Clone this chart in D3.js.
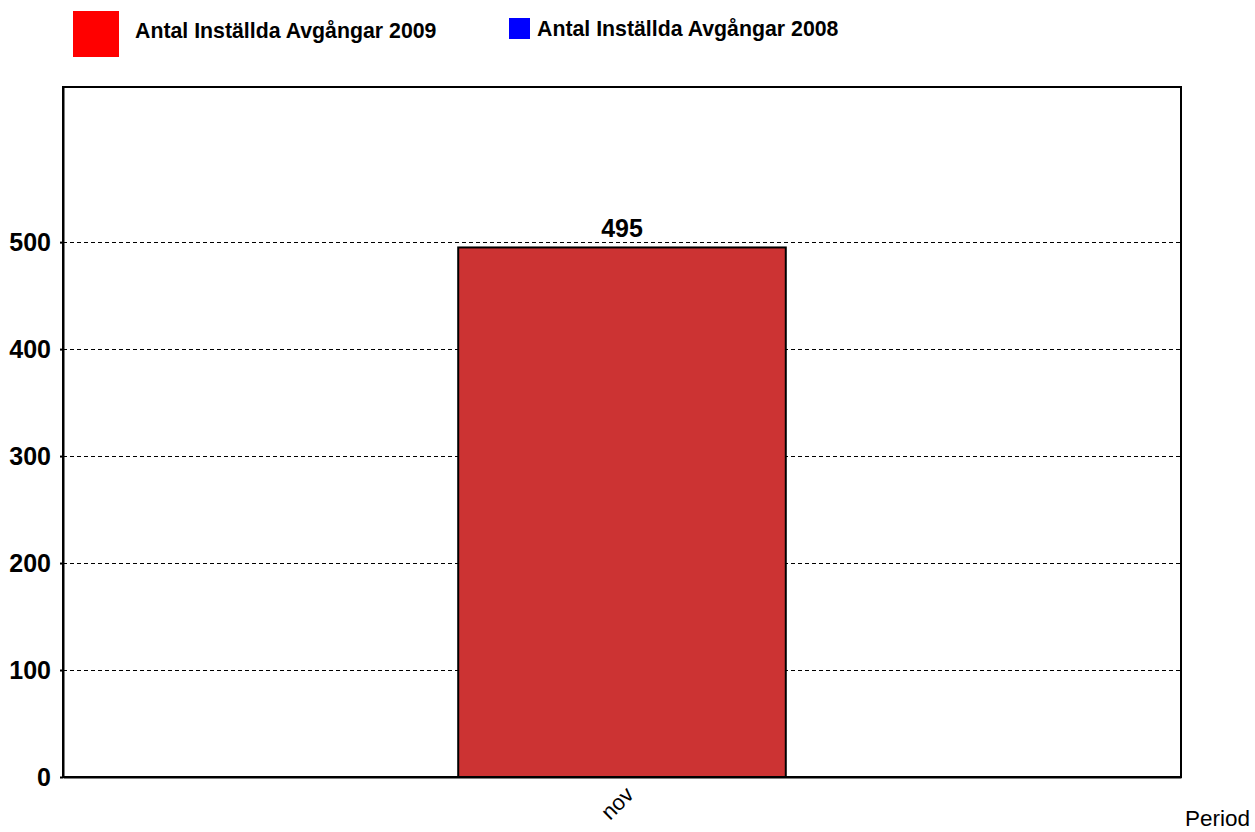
<!DOCTYPE html>
<html>
<head>
<meta charset="utf-8">
<script src="https://cdn.jsdelivr.net/npm/d3@7"></script>
<style>
  body { margin: 0; background: #fff; }
  svg { display: block; font-family: "Liberation Sans", Arial, sans-serif; }
</style>
</head>
<body>
<svg id="chart"></svg>
<script>
// data
const categories = ['nov'];
const values2009 = [495];
const values2008 = [];
const yTicks = [0, 100, 200, 300, 400, 500];
const seriesNames = ['Antal Inställda Avgångar 2009', 'Antal Inställda Avgångar 2008'];
const yMax = 645;

const WIDTH = 1255;
const HEIGHT = 832;
const plot = { left: 63, right: 1181, top: 87, bottom: 777 };

const svg = d3.select('#chart')
  .attr('width', WIDTH)
  .attr('height', HEIGHT);

const xScale = d3.scaleBand()
  .domain(categories)
  .range([plot.left, plot.right])
  .paddingInner(0.707)
  .paddingOuter(0.3535);

const yScale = d3.scaleLinear()
  .domain([0, yMax])
  .range([plot.bottom, plot.top]);

// gridlines
svg.append('g')
  .selectAll('line')
  .data(yTicks.filter(d => d > 0))
  .enter()
  .append('line')
  .attr('x1', plot.left)
  .attr('x2', plot.right)
  .attr('y1', d => Math.round(yScale(d)) + 0.5)
  .attr('y2', d => Math.round(yScale(d)) + 0.5)
  .attr('stroke', '#000')
  .attr('stroke-width', 1)
  .attr('shape-rendering', 'crispEdges')
  .attr('stroke-dasharray', '4,3');

// bars
svg.append('g')
  .selectAll('.bar')
  .data(values2009)
  .enter()
  .append('rect')
  .classed('bar', true)
  .attr('x', (d, i) => xScale(categories[i]))
  .attr('y', d => yScale(d))
  .attr('width', xScale.bandwidth())
  .attr('height', d => yScale(0) - yScale(d))
  .attr('fill', '#CC3333')
  .attr('stroke', '#000')
  .attr('stroke-width', 2);

// value labels
svg.append('g')
  .selectAll('text')
  .data(values2009)
  .enter()
  .append('text')
  .attr('x', (d, i) => xScale(categories[i]) + xScale.bandwidth() / 2)
  .attr('y', d => yScale(d) - 10)
  .attr('text-anchor', 'middle')
  .attr('font-size', 25)
  .attr('font-weight', 'bold')
  .text(d => d);

// frame
svg.append('rect')
  .attr('x', plot.left)
  .attr('y', plot.top)
  .attr('width', plot.right - plot.left)
  .attr('height', plot.bottom - plot.top)
  .attr('fill', 'none')
  .attr('stroke', '#000')
  .attr('stroke-width', 2);

// y axis
const yAxis = svg.append('g')
  .attr('transform', `translate(${plot.left},0)`)
  .call(d3.axisLeft(yScale).tickValues(yTicks).tickSize(3).tickSizeOuter(0).tickPadding(9));
yAxis.select('.domain').attr('stroke-width', 2);
yAxis.selectAll('.tick line').attr('stroke-width', 2);
yAxis.selectAll('.tick text')
  .attr('font-size', 25)
  .attr('font-weight', 'bold')
  .attr('font-family', '"Liberation Sans", Arial, sans-serif')
  .attr('fill', '#000');

// x axis
const xAxis = svg.append('g')
  .attr('transform', `translate(0,${plot.bottom})`)
  .call(d3.axisBottom(xScale).tickSize(0).tickSizeOuter(0).tickPadding(0));
xAxis.select('.domain').attr('stroke-width', 2);
xAxis.selectAll('.tick text')
  .attr('font-size', 22)
  .attr('font-family', '"Liberation Sans", Arial, sans-serif')
  .attr('fill', '#000')
  .attr('text-anchor', 'end')
  .attr('dy', null)
  .attr('y', 0)
  .attr('transform', 'translate(13,19) rotate(-45)');

svg.append('text')
  .attr('x', 1185)
  .attr('y', 826)
  .attr('font-size', 22.5)
  .text('Period');

// legend
const legend = [
  { name: seriesNames[0], color: '#FF0000', box: [73, 11, 46, 46], tx: 135, ty: 38 },
  { name: seriesNames[1], color: '#0000FF', box: [509, 18, 21, 21], tx: 537, ty: 36 }
];
const lg = svg.append('g')
  .selectAll('g')
  .data(legend)
  .enter()
  .append('g');
lg.append('rect')
  .attr('x', d => d.box[0])
  .attr('y', d => d.box[1])
  .attr('width', d => d.box[2])
  .attr('height', d => d.box[3])
  .attr('fill', d => d.color);
lg.append('text')
  .attr('x', d => d.tx)
  .attr('y', d => d.ty)
  .attr('font-size', 21.3)
  .attr('font-weight', 'bold')
  .text(d => d.name);
</script>
</body>
</html>
